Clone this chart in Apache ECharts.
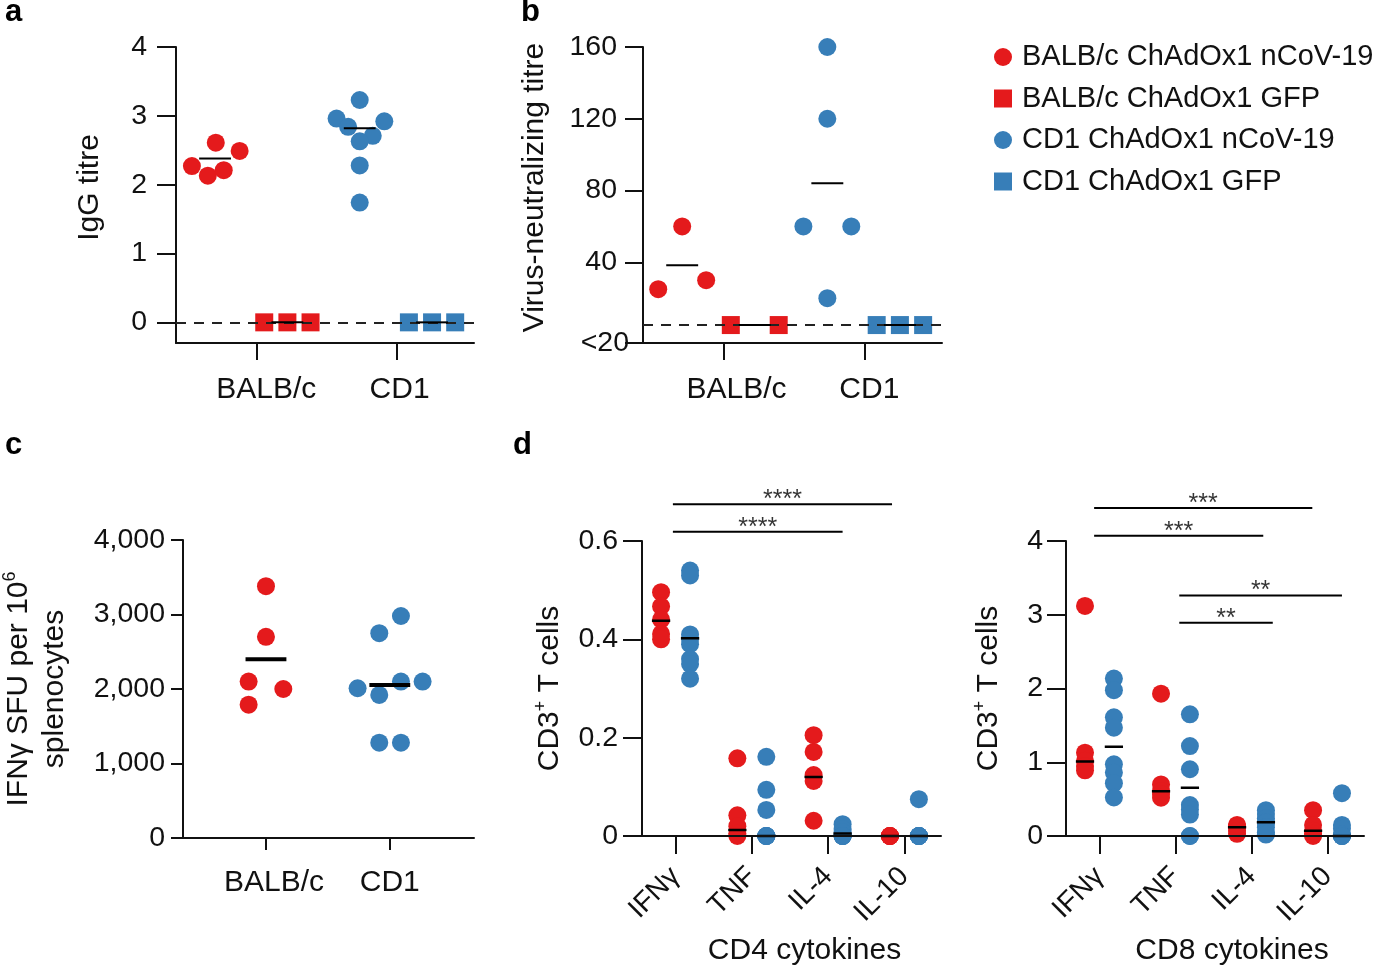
<!DOCTYPE html>
<html>
<head>
<meta charset="utf-8">
<script src="https://cdn.jsdelivr.net/npm/echarts@6/dist/echarts.min.js"></script>
<style>
  html, body { margin: 0; padding: 0; background: #fff; }
  #chart { width: 1381px; height: 967px; }
</style>
</head>
<body>
<div id="chart"></div>
<script>
// ---- data ----
const strains = ['BALB/c', 'CD1'];
const cytokines = ['IFNγ', 'TNF', 'IL-4', 'IL-10'];

// a: IgG titre
const igBalbVacc = [2.27, 2.13, 2.61, 2.21, 2.49];
const igBalbGfp = [0, 0, 0];
const igCd1Vacc = [2.96, 3.23, 2.84, 2.92, 2.71, 2.63, 2.28, 1.74];
const igCd1Gfp = [0, 0, 0];
const igBars = [2.38, 0, 2.82, 0];

// b: virus-neutralizing titre (5 = below the <20 limit)
const vnBalbVacc = [25, 60, 30];
const vnBalbGfp = [5, 5];
const vnCd1Vacc = [60, 160, 120, 60, 20];
const vnCd1Gfp = [5, 5, 5];
const vnBars = [38.3, 5, 84, 5];
const vnLimit = 5;

// c: IFNγ SFU per 10^6 splenocytes
const sfuBalb = [3380, 2700, 2100, 2000, 1790];
const sfuCd1 = [2980, 2750, 2010, 2100, 2100, 1920, 1280, 1280];
const sfuBars = [2400, 2055];

// d: % CD3+ T cells, per cytokine
const cd4Balb = [[0.496, 0.467, 0.44, 0.411, 0.40], [0.158, 0.042, 0.02, 0.005, 0], [0.205, 0.171, 0.124, 0.112, 0.031], [0, 0, 0, 0, 0]];
const cd4Cd1 = [[0.54, 0.53, 0.41, 0.40, 0.39, 0.36, 0.35, 0.32], [0.161, 0.094, 0.053, 0, 0, 0, 0, 0], [0.024, 0.014, 0.008, 0, 0, 0, 0, 0], [0.075, 0, 0, 0, 0, 0, 0, 0]];
const cd4BalbBars = [0.438, 0.012, 0.12, 0];
const cd4Cd1Bars = [0.402, 0, 0.005, 0];
const cd8Balb = [[3.12, 1.13, 1.02, 0.95, 0.89], [1.93, 0.70, 0.61, 0.57, 0.52], [0.15, 0.13, 0.12, 0.07, 0.03], [0.35, 0.15, 0.07, 0.03, 0]];
const cd8Cd1 = [[2.135, 1.977, 1.61, 1.468, 0.973, 0.86, 0.716, 0.523], [1.65, 1.22, 0.905, 0.42, 0.36, 0.29, 0, 0], [0.35, 0.30, 0.24, 0.19, 0.18, 0.12, 0.05, 0.02], [0.58, 0.15, 0.10, 0.02, 0, 0, 0, 0]];
const cd8BalbBars = [1.01, 0.608, 0.117, 0.072];
const cd8Cd1Bars = [1.21, 0.653, 0.185, 0];

// significance brackets: [from, to, level, stars]
const cd4Sig = [[-0.035, 2.838, 0.675, '****'], [-0.035, 2.19, 0.619, '****']];
const cd8Sig = [[-0.07, 2.80, 4.446, '***'], [-0.07, 2.155, 4.07, '***'], [1.05, 3.19, 3.26, '**'], [1.05, 2.28, 2.89, '**']];

// ---- swarm layout (offsets in category units) ----
const jitIgBalb = [-0.16, -0.05, 0.005, 0.06, 0.17];
const jitIgCd1 = [-0.16, 0, -0.08, 0.17, 0.09, 0, 0, 0];
const jitGfp3 = [-0.16, 0, 0.16];
const jitVn3 = [-0.165, 0, 0.165];
const jitVn2 = [-0.165, 0.165];
const jitVnCd1 = [-0.165, 0, 0, 0.165, 0];
const jitSfuBalb = [0, 0, -0.14, 0.14, -0.14];
const jitSfuCd1 = [0.09, -0.085, -0.26, 0.09, 0.265, -0.085, -0.085, 0.09];
// where the strain ticks sit on panels a/b (the swarms are not quite centred on them)
const strainTicksAB = [1.035, 2.005];

const FONT = '"Liberation Sans", Arial, Helvetica, sans-serif';
const RED = '#e41a1c';
const BLUE = '#377eb8';
const INK = '#111';
const NAMES = ['BALB/c ChAdOx1 nCoV-19', 'BALB/c ChAdOx1 GFP', 'CD1 ChAdOx1 nCoV-19', 'CD1 ChAdOx1 GFP'];

function merge(a, b) {
  const out = Object.assign({}, a);
  for (const k in b) {
    if (b[k] && typeof b[k] === 'object' && !Array.isArray(b[k]) && a[k] && typeof a[k] === 'object') {
      out[k] = merge(a[k], b[k]);
    } else {
      out[k] = b[k];
    }
  }
  return out;
}

const baseAxis = {
  type: 'value',
  splitLine: { show: false },
  axisLine: { show: true, onZero: false, lineStyle: { color: INK, width: 2 } },
  axisTick: { show: true, lineStyle: { color: INK, width: 2 } },
  axisLabel: { color: INK, fontFamily: FONT, fontSize: 28.5 },
  nameTextStyle: { color: INK, fontFamily: FONT, fontSize: 30 },
};
const ax = o => merge(baseAxis, o);

function dots(name, gi, color, symbol, cx, values, jitter) {
  return {
    type: 'scatter', name: name, xAxisIndex: gi, yAxisIndex: gi,
    symbol: symbol, symbolSize: 18, clip: false, z: 3, silent: true,
    emphasis: { disabled: true },
    itemStyle: { color: color, opacity: 1 },
    data: values.map((v, i) => [cx + (jitter ? jitter[i] : 0), v]),
  };
}

function bar(gi, cx, hw, v, w) {
  return {
    type: 'line', xAxisIndex: gi, yAxisIndex: gi, symbol: 'none', clip: false,
    z: 5, silent: true, lineStyle: { color: '#000', width: w },
    data: [[cx - hw, v], [cx + hw, v]],
  };
}

function dashed(gi, v) {
  return {
    type: 'line', xAxisIndex: gi, yAxisIndex: gi, data: [], z: 1, silent: true,
    markLine: {
      symbol: ['none', 'none'], silent: true, animation: false,
      label: { show: false },
      lineStyle: { color: '#222', width: 2, type: [10, 8] },
      data: [{ yAxis: v }],
    },
  };
}

function bracket(gi, s) {
  return [
    {
      type: 'line', xAxisIndex: gi, yAxisIndex: gi, symbol: 'none', clip: false,
      silent: true, lineStyle: { color: '#000', width: 2 },
      data: [[s[0], s[2]], [s[1], s[2]]],
    },
    {
      type: 'scatter', xAxisIndex: gi, yAxisIndex: gi, symbolSize: 1, clip: false,
      silent: true, itemStyle: { color: 'rgba(0,0,0,0)' },
      label: { show: true, position: 'inside', offset: [0, -4], formatter: s[3], color: '#000', fontSize: 25, fontFamily: FONT },
      data: [[(s[0] + s[1]) / 2, s[2]]],
    },
  ];
}

const series = [];

// a
series.push(dashed(0, 0));
series.push(dots(NAMES[0], 0, RED, 'circle', 0.75, igBalbVacc, jitIgBalb));
series.push(dots(NAMES[1], 0, RED, 'rect', 1.25, igBalbGfp, jitGfp3));
series.push(dots(NAMES[2], 0, BLUE, 'circle', 1.75, igCd1Vacc, jitIgCd1));
series.push(dots(NAMES[3], 0, BLUE, 'rect', 2.25, igCd1Gfp, jitGfp3));
[0.75, 1.25, 1.75, 2.25].forEach((cx, i) => series.push(bar(0, cx, 0.11, igBars[i], 2)));

// b
series.push(dashed(1, vnLimit));
series.push(dots(NAMES[0], 1, RED, 'circle', 0.75, vnBalbVacc, jitVn3));
series.push(dots(NAMES[1], 1, RED, 'rect', 1.25, vnBalbGfp, jitVn2));
series.push(dots(NAMES[2], 1, BLUE, 'circle', 1.75, vnCd1Vacc, jitVnCd1));
series.push(dots(NAMES[3], 1, BLUE, 'rect', 2.25, vnCd1Gfp, jitGfp3));
[0.75, 1.25, 1.75, 2.25].forEach((cx, i) => series.push(bar(1, cx, 0.11, vnBars[i], 2)));

// c
series.push(dots(NAMES[0], 2, RED, 'circle', 1, sfuBalb, jitSfuBalb));
series.push(dots(NAMES[2], 2, BLUE, 'circle', 2, sfuCd1, jitSfuCd1));
series.push(bar(2, 1, 0.165, sfuBars[0], 4));
series.push(bar(2, 2, 0.165, sfuBars[1], 4));

// d
[[3, cd4Balb, cd4Cd1, cd4BalbBars, cd4Cd1Bars, cd4Sig], [4, cd8Balb, cd8Cd1, cd8BalbBars, cd8Cd1Bars, cd8Sig]].forEach(p => {
  const gi = p[0];
  cytokines.forEach((c, i) => {
    series.push(dots(NAMES[0], gi, RED, 'circle', i - 0.19, p[1][i]));
    series.push(dots(NAMES[2], gi, BLUE, 'circle', i + 0.19, p[2][i]));
    series.push(bar(gi, i - 0.19, 0.12, p[3][i], 2.5));
    series.push(bar(gi, i + 0.19, 0.12, p[4][i], 2.5));
  });
  p[5].forEach(s => bracket(gi, s).forEach(x => series.push(x)));
});

const supRich = {
  sup: { fontSize: 18, fontFamily: FONT, color: INK, verticalAlign: 'top', lineHeight: 32 },
  t: { fontSize: 30, fontFamily: FONT, color: INK, lineHeight: 36 },
};

// strain labels, nudged to where they sit in the figure
const strainRich = shifts => ({
  s0: { fontSize: 30, fontFamily: FONT, color: INK, padding: [0, 0, 0, shifts[0]] },
  s1: { fontSize: 30, fontFamily: FONT, color: INK, padding: [0, 0, 0, shifts[1]] },
});
const strainLabel = v => {
  const i = Math.round(v) - 1;
  return '{s' + i + '|' + strains[i] + '}';
};

const strainX = (gi, min, max, ticks, len, shifts, margin) => ax({
  gridIndex: gi, min: min, max: max,
  axisTick: { customValues: ticks, length: len },
  axisLabel: { customValues: ticks, formatter: strainLabel, margin: margin, rich: strainRich(shifts) },
});

const dX = (gi, name, pad) => ax({
  gridIndex: gi, min: -0.44, max: 3.48, z: 10,
  axisTick: { customValues: [0, 1, 2, 3], length: 18 },
  axisLabel: { customValues: [0, 1, 2, 3], formatter: v => cytokines[Math.round(v)], rotate: 45, margin: 36, fontSize: 28 },
  name: name, nameLocation: 'middle', nameGap: 100,
  nameTextStyle: { padding: [0, 0, 0, pad] },
});

const option = {
  animation: false,
  backgroundColor: '#fff',
  textStyle: { fontFamily: FONT },
  title: [
    { text: 'a', left: 5, top: -3 },
    { text: 'b', left: 521, top: -3 },
    { text: 'c', left: 5, top: 430 },
    { text: 'd', left: 513, top: 430 },
  ].map(t => Object.assign(t, { padding: 0, textStyle: { fontSize: 31, fontWeight: 'bold', fontFamily: FONT, color: '#000' } })),
  legend: {
    orient: 'vertical', left: 989, top: 37,
    itemWidth: 18, itemHeight: 18, itemGap: 11.5, selectedMode: false,
    textStyle: { fontSize: 29, fontFamily: FONT, color: INK, lineHeight: 30, padding: [0, 0, 0, 5] },
    data: [
      { name: NAMES[0], icon: 'circle' },
      { name: NAMES[1], icon: 'rect' },
      { name: NAMES[2], icon: 'circle' },
      { name: NAMES[3], icon: 'rect' },
    ],
  },
  grid: [
    { left: 176, top: 47, width: 298, height: 296 },
    { left: 643, top: 47, width: 299, height: 296 },
    { left: 176, top: 540, width: 298, height: 298 },
    { left: 642, top: 541, width: 299, height: 296 },
    { left: 1066, top: 541, width: 298, height: 296 },
  ],
  xAxis: [
    strainX(0, 0.48, 2.54, strainTicksAB, 17, [20, 6], 32),
    strainX(1, 0.48, 2.54, strainTicksAB, 17, [26, 10], 32),
    strainX(2, 0.33, 2.68, [1, 2], 12, [16, 0], 30),
    dX(3, 'CD4 cytokines', 26),
    dX(4, 'CD8 cytokines', 34),
  ],
  yAxis: [
    ax({ gridIndex: 0, min: -0.3, max: 4,
      axisTick: { customValues: [0, 1, 2, 3, 4], length: 19 },
      axisLabel: { customValues: [0, 1, 2, 3, 4], margin: 29 },
      name: 'IgG titre', nameLocation: 'middle', nameRotate: 90, nameGap: 71,
      nameTextStyle: { padding: [0, 0, 0, 15] } }),
    ax({ gridIndex: 1, min: -5, max: 160,
      axisTick: { customValues: [-5, 40, 80, 120, 160], length: 18 },
      axisLabel: { customValues: [-5, 40, 80, 120, 160], margin: 14,
        formatter: v => (v === -5 ? '{lt|<20}' : '{n|' + v + '}'),
        rich: { lt: { fontSize: 28.5, fontFamily: FONT, color: INK }, n: { fontSize: 28.5, fontFamily: FONT, color: INK, padding: [0, 12, 0, 0] } } },
      name: 'Virus-neutralizing titre', nameLocation: 'middle', nameRotate: 90, nameGap: 93,
      nameTextStyle: { padding: [0, 0, 0, 15] } }),
    ax({ gridIndex: 2, min: 0, max: 4000,
      axisTick: { customValues: [0, 1000, 2000, 3000, 4000], length: 12 },
      axisLabel: { customValues: [0, 1000, 2000, 3000, 4000], margin: 18, formatter: v => v.toLocaleString('en-US') },
      name: '{t|IFNγ SFU per 10}{sup|6}\n{t|splenocytes}', nameLocation: 'middle', nameRotate: 90, nameGap: 110,
      nameTextStyle: { rich: supRich } }),
    ax({ gridIndex: 3, min: 0, max: 0.6,
      axisTick: { customValues: [0, 0.2, 0.4, 0.6], length: 19 },
      axisLabel: { customValues: [0, 0.2, 0.4, 0.6], margin: 24 },
      name: '{t|CD3}{sup|+}{t| T cells}', nameLocation: 'middle', nameRotate: 90, nameGap: 74,
      nameTextStyle: { rich: supRich } }),
    ax({ gridIndex: 4, min: 0, max: 4,
      axisTick: { customValues: [0, 1, 2, 3, 4], length: 19 },
      axisLabel: { customValues: [0, 1, 2, 3, 4], margin: 23 },
      name: '{t|CD3}{sup|+}{t| T cells}', nameLocation: 'middle', nameRotate: 90, nameGap: 59,
      nameTextStyle: { rich: supRich } }),
  ],
  series: series,
};

const chart = echarts.init(document.getElementById('chart'), null, { renderer: 'canvas' });
chart.setOption(option);
</script>
</body>
</html>
